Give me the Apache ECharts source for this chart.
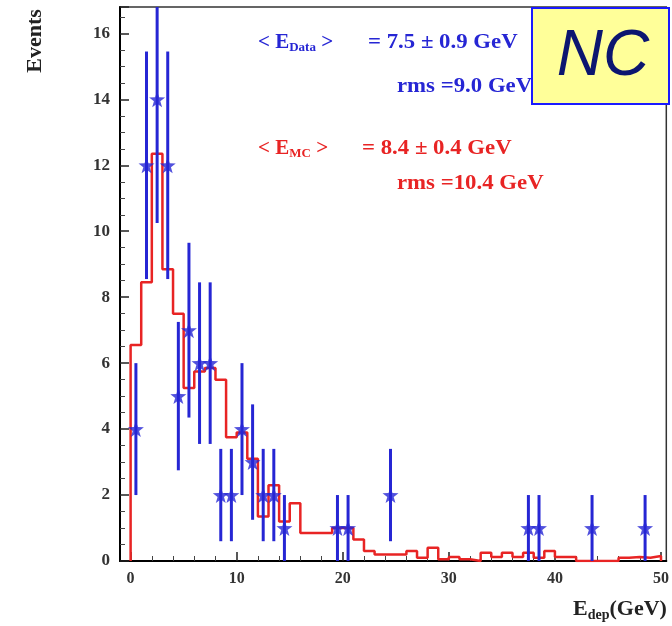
<!DOCTYPE html>
<html>
<head>
<meta charset="utf-8">
<script src="https://cdn.jsdelivr.net/npm/echarts@6/dist/echarts.min.js"></script>
<style>
  html, body { margin: 0; padding: 0; background: #fff; }
  #main { width: 672px; height: 626px; }
</style>
</head>
<body>
<div id="main"></div>
<script>
// MC prediction, 1 GeV bins (lower edge of each bin)
const mcEdges = [0,1,2,3,4,5,6,7,8,9,10,11,12,13,14,15,16,17,18,19,20,21,22,23,24,
                 25,26,27,28,29,30,31,32,33,34,35,36,37,38,39,40,41,42,43,44,45,46,47,48,49,50];
const mcValues = [6.55,8.45,12.35,8.85,7.5,5.25,5.75,5.85,5.5,3.75,3.9,3.1,1.35,2.3,1.2,1.75,0.85,0.85,0.85,1.0,
                  1.0,0.65,0.3,0.2,0.2,0.2,0.3,0.1,0.4,0.05,0.12,0.05,0,0.25,0.12,0.25,0.12,0.25,0.1,0.3,
                  0.12,0.12,0,0,0,0,0.1,0.12,0.1,0.15];

// data points (bin centres), counts and error bars
const dataX = [0.5,1.5,2.5,3.5,4.5,5.5,6.5,7.5,8.5,9.5,10.5,11.5,12.5,13.5,14.5,19.5,20.5,24.5,37.5,38.5,43.5,48.5];
const dataY = [4,12,14,12,5,7,6,6,2,2,4,3,2,2,1,1,1,2,1,1,1,1];
const dataErr = [2,3.45,3.75,3.45,2.25,2.65,2.45,2.45,1.4,1.4,2,1.75,1.4,1.4,1,1,1,1.4,1,1,1,1];

// axis ticks
const xMajor = [0,10,20,30,40,50];
const xMinor = [2,4,6,8,12,14,16,18,22,24,26,28,32,34,36,38,42,44,46,48];
const xMin = -1, xMax = 50.5;
const yMin = 0, yMax = 16.8;

const blue = '#2626d4';
const red = '#e82424';
const serif = 'Liberation Serif';
const star = 'path://M0,-10L2.35,-3.24L9.51,-3.09L3.8,1.24L5.88,8.09L0,4L-5.88,8.09L-3.8,1.24L-9.51,-3.09L-2.35,-3.24Z';

// step histogram points
let mcLine = [[mcEdges[0], 0]];
for (let i = 0; i < mcValues.length; i++) mcLine.push([mcEdges[i], mcValues[i]]);
mcLine.push([mcEdges[mcValues.length], 0]);

const points = dataX.map((x, i) => [x, dataY[i], dataErr[i]]);

let myChart;
function draw() {
    const labelFont = { fontFamily: serif, fontWeight: 'bold', fontSize: 16, color: '#333' };
    const stretch = 1.14; // annotation text in the original is a bit wide
    let option = {
        animation: false,
        backgroundColor: '#fff',
        grid: {
            left: 120, top: 7, right: 4, bottom: 65,
            show: true, borderColor: '#333', borderWidth: 1.5
        },
        xAxis: [
            {
                type: 'value', min: xMin, max: xMax, position: 'bottom',
                axisLine: { onZero: false, lineStyle: { color: '#000', width: 2 } },
                axisTick: { inside: true, length: 9, customValues: xMajor, lineStyle: { color: '#222', width: 1.5 } },
                axisLabel: Object.assign({ customValues: xMajor, margin: 10 }, labelFont),
                splitLine: { show: false }
            },
            {
                type: 'value', min: xMin, max: xMax, position: 'bottom',
                axisLine: { show: false },
                axisTick: { inside: true, length: 5, customValues: xMinor, lineStyle: { color: '#444', width: 1 } },
                axisLabel: { show: false },
                splitLine: { show: false }
            }
        ],
        yAxis: {
            type: 'value', min: yMin, max: yMax, interval: 2,
            axisLine: { show: true, onZero: false, lineStyle: { color: '#000', width: 2 } },
            axisTick: { inside: true, length: 9, lineStyle: { color: '#222', width: 1.5 } },
            minorTick: { show: true, splitNumber: 4, length: 5, lineStyle: { color: '#444', width: 1 } },
            axisLabel: Object.assign({ margin: 10, showMaxLabel: false }, labelFont, { fontSize: 17 }),
            splitLine: { show: false }
        },
        series: [
            {
                name: 'MC',
                type: 'line',
                step: 'end',
                symbol: 'none',
                data: mcLine,
                lineStyle: { color: red, width: 2.5 },
                z: 2
            },
            {
                name: 'errors',
                type: 'custom',
                data: points,
                z: 3,
                renderItem: function (params, api) {
                    let x = api.value(0), y = api.value(1), e = api.value(2);
                    let top = api.coord([x, Math.min(y + e, yMax)]);
                    let bot = api.coord([x, Math.max(y - e, yMin)]);
                    return {
                        type: 'line',
                        shape: { x1: top[0], y1: top[1], x2: bot[0], y2: bot[1] },
                        style: { stroke: blue, lineWidth: 3 }
                    };
                }
            },
            {
                name: 'Data',
                type: 'scatter',
                data: points.map(p => [p[0], p[1]]),
                symbol: star,
                symbolSize: 16,
                itemStyle: { color: blue },
                z: 4
            }
        ],
        graphic: [
            {
                type: 'text', x: 35, y: 41, rotation: Math.PI / 2,
                style: { text: 'Events', fontFamily: serif, fontWeight: 'bold', fontSize: 22, fill: '#222',
                         align: 'center', verticalAlign: 'middle' }
            },
            {
                type: 'text', x: 573, y: 596,
                style: {
                    text: '{a|E}{s|dep}{a|(GeV)}',
                    rich: {
                        a: { fontFamily: serif, fontWeight: 'bold', fontSize: 22, fill: '#222' },
                        s: { fontFamily: serif, fontWeight: 'bold', fontSize: 14, fill: '#222', padding: [12, 0, 0, 0] }
                    }
                }
            },
            {
                type: 'text', x: 258, y: 31,
                style: {
                    text: '{a|< E}{s|Data}{a| >}',
                    rich: {
                        a: { fontFamily: serif, fontWeight: 'bold', fontSize: 21, fill: blue },
                        s: { fontFamily: serif, fontWeight: 'bold', fontSize: 13, fill: blue, padding: [10, 0, 0, 0] }
                    }
                }
            },
            {
                type: 'text', x: 368, y: 33, scaleX: stretch,
                style: { text: '= 7.5 \u00b1 0.9 GeV', fontFamily: serif, fontWeight: 'bold', fontSize: 20, fill: blue }
            },
            {
                type: 'text', x: 397, y: 77, scaleX: stretch,
                style: { text: 'rms =9.0 GeV', fontFamily: serif, fontWeight: 'bold', fontSize: 20, fill: blue }
            },
            {
                type: 'text', x: 258, y: 137,
                style: {
                    text: '{a|< E}{s|MC}{a| >}',
                    rich: {
                        a: { fontFamily: serif, fontWeight: 'bold', fontSize: 21, fill: red },
                        s: { fontFamily: serif, fontWeight: 'bold', fontSize: 13, fill: red, padding: [10, 0, 0, 0] }
                    }
                }
            },
            {
                type: 'text', x: 362, y: 139, scaleX: stretch,
                style: { text: '= 8.4 \u00b1 0.4 GeV', fontFamily: serif, fontWeight: 'bold', fontSize: 20, fill: red }
            },
            {
                type: 'text', x: 397, y: 174, scaleX: stretch,
                style: { text: 'rms =10.4 GeV', fontFamily: serif, fontWeight: 'bold', fontSize: 20, fill: red }
            },
            {
                type: 'rect', z: 100,
                shape: { x: 532, y: 8, width: 137, height: 96 },
                style: { fill: '#ffff99', stroke: '#1a1aff', lineWidth: 2 }
            },
            {
                type: 'text', z: 101, x: 603, y: 57,
                style: { text: 'NC', fontFamily: 'Liberation Sans', fontStyle: 'italic', fontSize: 64,
                         fill: '#0c1670', align: 'center', verticalAlign: 'middle' }
            }
        ]
    };

    myChart = echarts.init(document.getElementById('main'));
    myChart.setOption(option);

    window.addEventListener('resize', function () {
        myChart.resize();
    }, false);
}

draw();
</script>
</body>
</html>
